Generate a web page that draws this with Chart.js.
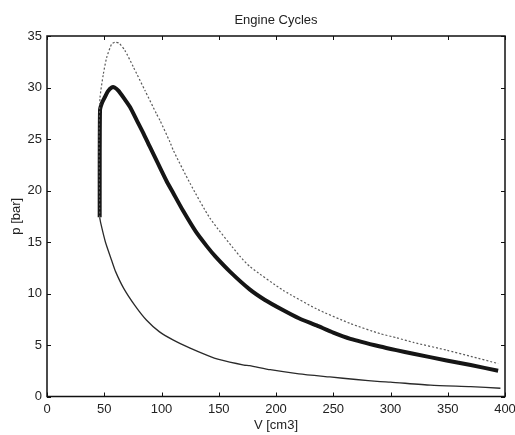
<!DOCTYPE html>
<html>
<head>
<meta charset="utf-8">
<script src="https://cdn.jsdelivr.net/npm/chart.js@4"></script>
<style>
html,body{margin:0;padding:0;background:#fff;}
canvas{display:block;}
</style>
</head>
<body>
<canvas id="c" width="515" height="435"></canvas>
<script>
// Volume [cm3] and pressure [bar]
const compressionV = [396, 370, 335, 300, 291, 270, 247, 220, 195, 177, 172, 150, 140, 125, 110, 98, 87, 77, 67, 60, 56.5, 51, 47, 46];
const compressionP = [0.8, 0.95, 1.1, 1.4, 1.45, 1.65, 1.9, 2.2, 2.6, 3.0, 3.05, 3.6, 4.0, 4.7, 5.5, 6.3, 7.4, 8.8, 10.5, 12.1, 13.2, 15.0, 16.8, 17.4];

const measuredV = [46, 46.3, 48, 50.7, 53, 56.5, 59, 62.3, 67, 72.5, 78, 84, 90, 97, 104.5, 110, 119, 130, 139.5, 147, 160, 177, 190, 206, 220, 235.5, 250, 265, 291, 305, 320, 349, 370, 394];
const measuredP = [17.4, 27.8, 28.5, 29.1, 29.6, 30.0, 30.0, 29.7, 29.0, 28.1, 26.9, 25.6, 24.2, 22.6, 20.9, 19.8, 18.0, 16.0, 14.6, 13.6, 12.1, 10.4, 9.4, 8.4, 7.6, 6.9, 6.2, 5.6, 4.85, 4.5, 4.15, 3.5, 3.05, 2.5];

const modelV = [46, 45.5, 46.3, 49.2, 52.1, 56.4, 59.4, 63, 68, 75.4, 85.6, 95.8, 98.7, 107.4, 110.3, 124.9, 142.4, 168.6, 177.3, 206.4, 235.5, 264.6, 291, 305.4, 320, 349, 370, 394];
const modelP = [17.4, 24.9, 29.0, 31.3, 32.9, 34.2, 34.4, 34.3, 33.6, 32.0, 29.7, 27.4, 26.8, 24.7, 23.9, 20.7, 17.3, 13.6, 12.6, 10.3, 8.5, 7.1, 6.1, 5.7, 5.25, 4.5, 3.9, 3.2];

const xTicks = [0, 50, 100, 150, 200, 250, 300, 350, 400];
const yTicks = [0, 5, 10, 15, 20, 25, 30, 35];
const chartTitle = 'Engine Cycles';

const toPts = (xs, ys) => xs.map((v, i) => ({x: v, y: ys[i]}));
const FONT = 'Liberation Sans, Arial, Helvetica, sans-serif';

const framePlugin = {
  id: 'frame',
  afterDatasetsDraw(chart) {
    const {ctx, chartArea: a, scales: {x, y}} = chart;
    ctx.save();
    ctx.strokeStyle = '#111';
    ctx.lineWidth = 1;
    ctx.beginPath();
    xTicks.forEach(v => {
      const px = Math.round(x.getPixelForValue(v)) + 0.5;
      ctx.moveTo(px, a.bottom); ctx.lineTo(px, a.bottom - 4);
      ctx.moveTo(px, a.top); ctx.lineTo(px, a.top + 4);
    });
    yTicks.forEach(v => {
      const py = Math.round(y.getPixelForValue(v)) + 0.5;
      ctx.moveTo(a.left, py); ctx.lineTo(a.left + 4, py);
      ctx.moveTo(a.right, py); ctx.lineTo(a.right - 4, py);
    });
    ctx.stroke();
    ctx.lineWidth = 1.5;
    ctx.strokeRect(a.left, a.top, a.right - a.left, a.bottom - a.top);
    // title centred over the plot area
    ctx.fillStyle = '#222';
    ctx.font = '13px ' + FONT;
    ctx.textAlign = 'center';
    ctx.textBaseline = 'middle';
    ctx.fillText(chartTitle, (a.left + a.right) / 2, 20);
    ctx.restore();
  }
};

new Chart(document.getElementById('c'), {
  type: 'scatter',
  data: {
    datasets: [
      {
        label: 'compression',
        data: toPts(compressionV, compressionP),
        showLine: true, borderColor: '#2a2a2a', borderWidth: 1.3,
        pointRadius: 0, tension: 0.2, fill: false
      },
      {
        label: 'model',
        data: toPts(modelV, modelP),
        showLine: true, borderColor: '#5a5a5a', borderWidth: 1.2, borderDash: [2, 2],
        pointRadius: 0, tension: 0.2, fill: false
      },
      {
        label: 'measured',
        data: toPts(measuredV, measuredP),
        showLine: true, borderColor: '#151515', borderWidth: 4,
        pointRadius: 0, tension: 0.2, fill: false
      }
    ]
  },
  options: {
    responsive: false,
    animation: false,
    devicePixelRatio: 1,
    layout: {padding: {top: 36, right: 10, bottom: 0, left: 0}},
    plugins: {
      legend: {display: false},
      tooltip: {enabled: false},
      title: {display: false}
    },
    scales: {
      x: {
        type: 'linear', min: 0, max: 400,
        afterBuildTicks: s => { s.ticks = xTicks.map(v => ({value: v})); },
        afterFit: s => { s.height = 38.5; s.paddingRight = 0; },
        grid: {display: false, drawTicks: false},
        border: {display: false},
        ticks: {color: '#222', padding: 5, maxRotation: 0, font: {family: FONT, size: 13}},
        title: {display: true, text: 'V [cm3]', color: '#222', font: {family: FONT, size: 13}, padding: {top: 0, bottom: 2}}
      },
      y: {
        type: 'linear', min: 0, max: 35,
        afterBuildTicks: s => { s.ticks = yTicks.map(v => ({value: v})); },
        afterFit: s => { s.width = 47; s.paddingTop = 0; },
        grid: {display: false, drawTicks: false},
        border: {display: false},
        ticks: {color: '#222', padding: 5, font: {family: FONT, size: 13}},
        title: {display: true, text: 'p [bar]', color: '#222', font: {family: FONT, size: 13}, padding: {top: 8.7, bottom: 0}}
      }
    }
  },
  plugins: [framePlugin]
});
</script>
</body>
</html>
